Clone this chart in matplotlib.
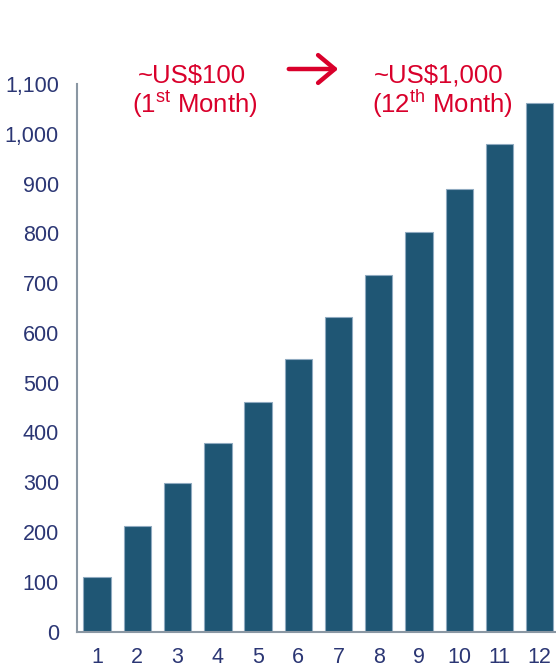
import matplotlib
matplotlib.use("Agg")
import matplotlib.pyplot as plt

# Monthly revenue (US$) over the first year
months = [1, 2, 3, 4, 5, 6, 7, 8, 9, 10, 11, 12]
revenue = [109, 212, 298, 379, 461, 547, 632, 717, 803, 890, 979, 1061]
y_ticks = [0, 100, 200, 300, 400, 500, 600, 700, 800, 900, 1000, 1100]

BAR = "#1F5674"
NAVY = "#2B3674"
RED = "#D9002B"

plt.rcParams["font.family"] = ["Liberation Sans", "DejaVu Sans"]
plt.rcParams["mathtext.fontset"] = "custom"
plt.rcParams["mathtext.rm"] = "Liberation Sans"
plt.rcParams["mathtext.it"] = "Liberation Sans"

fig = plt.figure(figsize=(5.56, 6.67), dpi=100)
ax = fig.add_axes([77 / 556, 35.5 / 667, 1 - 77 / 556, 547.5 / 667])

ax.bar(months, revenue, width=0.68, color=BAR, edgecolor="#8FAAC0", linewidth=0.8)

ax.set_xlim(0.5, 12.405)
ax.set_ylim(0, 1100)
ax.set_xticks(months)
ax.set_yticks(y_ticks)
ax.set_yticklabels([f"{v:,}" for v in y_ticks])
ax.tick_params(axis="both", length=0, labelsize=15.5, labelcolor=NAVY)
ax.tick_params(axis="y", pad=13)
ax.tick_params(axis="x", pad=11)

for side in ("top", "right"):
    ax.spines[side].set_visible(False)
for side in ("left", "bottom"):
    ax.spines[side].set_color("#8A97A3")
    ax.spines[side].set_linewidth(1.5)

# Callouts above the bars
def fy(px):
    return (667 - px) / 667

fig.text(192 / 556, fy(83), "~US$100", color=RED, fontsize=18.5,
         ha="center", va="baseline")
fig.text(195 / 556, fy(113), r"(1$^{\mathrm{st}}$ Month)", color=RED, fontsize=18.5,
         ha="center", va="baseline")
fig.text(439 / 556, fy(83), "~US$1,000", color=RED, fontsize=18.5,
         ha="center", va="baseline")
fig.text(442 / 556, fy(113), r"(12$^{\mathrm{th}}$ Month)", color=RED, fontsize=18.5,
         ha="center", va="baseline")

fig.add_artist(matplotlib.patches.FancyArrowPatch(
    (286 / 556, fy(69)), (341 / 556, fy(69)), transform=fig.transFigure,
    arrowstyle="->,head_length=6,head_width=5", color=RED, lw=3.2,
    mutation_scale=2))

fig.savefig("out.png", dpi=100)
